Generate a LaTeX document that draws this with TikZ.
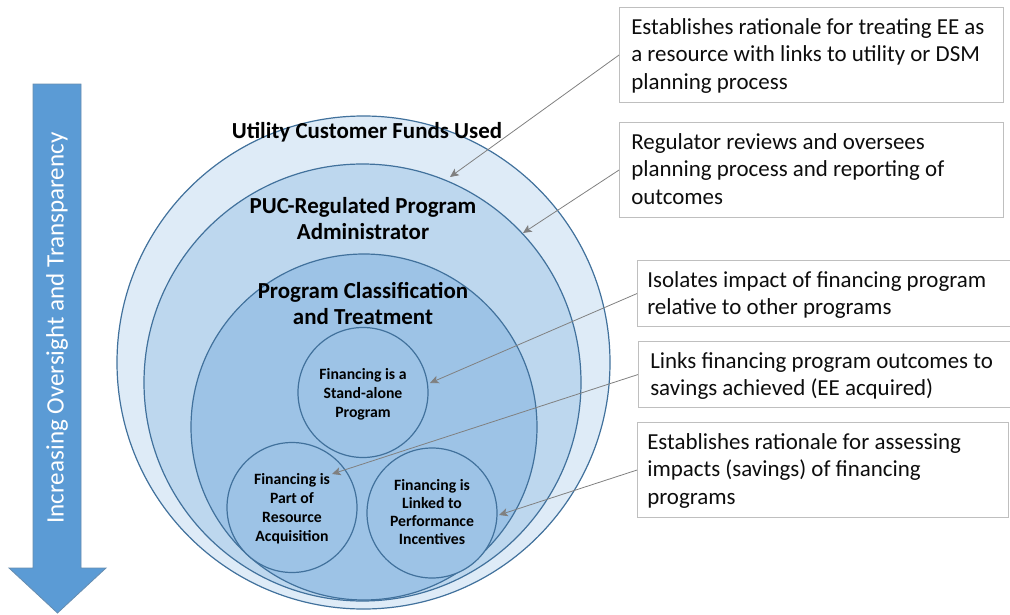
\documentclass[tikz,border=0pt]{standalone}
\usepackage{fontspec}
\setmainfont{Carlito}
\usetikzlibrary{arrows.meta}
\definecolor{ringA}{HTML}{DEEBF7}
\definecolor{ringB}{HTML}{BDD7EE}
\definecolor{ringC}{HTML}{9DC3E6}
\definecolor{edgeblue}{HTML}{41719C}
\definecolor{arrowblue}{HTML}{5B9BD5}
\definecolor{boxgray}{HTML}{BFBFBF}
\definecolor{linegray}{HTML}{808080}
\definecolor{txt}{HTML}{0D0D0D}
\tikzset{
  ring/.style={draw=edgeblue, line width=0.9pt, circle, inner sep=0pt},
  ringlabel/.style={font=\fontsize{17.2}{19.5}\selectfont\bfseries, align=center, inner sep=0pt},
  innerlabel/.style={font=\fontsize{11.8}{14.25}\selectfont\bfseries, align=center, inner sep=0pt},
  notebox/.style={draw=boxgray, line width=0.8pt, anchor=north west, inner sep=0pt},
  notetext/.style={anchor=north west, align=left, inner sep=0pt, text=txt, font=\fontsize{17.2}{20.6}\selectfont},
  pointer/.style={draw=linegray, line width=0.6pt, -{Stealth[length=6.5pt,width=6pt,inset=1.5pt]}}
}
\begin{document}
\begin{tikzpicture}[x=0.75pt,y=-0.75pt]
\useasboundingbox (0,0) rectangle (1010,614);
% left arrow
\draw[fill=arrowblue, draw=edgeblue!80, line width=0.6pt]
  (33,84) -- (81,84) -- (81,568) -- (106,568) -- (57.5,613) -- (9,568) -- (33,568) -- cycle;
\node[rotate=90, text=white, font=\fontsize{18.8}{22}\selectfont, inner sep=0pt] (arrowtext) at (57,328) {Increasing Oversight and Transparency};
% rings
\node[ring, fill=ringA, minimum size=493*0.75pt] (outer) at (363.5,362.5) {};
\node[ring, fill=ringB, minimum size=437*0.75pt] (middle) at (362.5,382.5) {};
\node[ring, fill=ringC, minimum size=346*0.75pt] (inner) at (364,427) {};
\node[ring, fill=ringC, minimum size=130*0.75pt] (standalone) at (363,392.5) {};
\node[ring, fill=ringC, minimum size=130*0.75pt] (resource) at (292,507.5) {};
\node[ring, fill=ringC, minimum size=130*0.75pt] (perform) at (432,513) {};
% note boxes
\node[notebox, minimum width=384*0.75pt, minimum height=95*0.75pt] (n1) at (619,7) {};
\node[notebox, minimum width=384*0.75pt, minimum height=95*0.75pt] (n2) at (619,122) {};
\node[notebox, minimum width=380*0.75pt, minimum height=66*0.75pt] (n3) at (637,260) {};
\node[notebox, minimum width=380*0.75pt, minimum height=66*0.75pt] (n4) at (638,341) {};
\node[notebox, minimum width=371*0.75pt, minimum height=95*0.75pt] (n5) at (637,422) {};
% note texts
\node[notetext] (n1t) at (631,14.75) {\strut Establishes rationale for treating EE as\\\strut a resource with links to utility or DSM\\\strut planning process};
\node[notetext] (n2t) at (631,129.75) {\strut Regulator reviews and oversees\\\strut planning process and reporting of\\\strut outcomes};
\node[notetext] (n3t) at (647,267.75) {\strut Isolates impact of financing program\\\strut relative to other programs};
\node[notetext] (n4t) at (650,348.75) {\strut Links financing program outcomes to\\\strut savings achieved (EE acquired)};
\node[notetext] (n5t) at (647,429.75) {\strut Establishes rationale for assessing\\\strut impacts (savings) of financing\\\strut programs};
% pointer targets
\coordinate (t1) at (450,177);
\coordinate (t2) at (523,233);
\coordinate (t3) at (430,383);
\coordinate (t4) at (332,474);
\coordinate (t5) at (499,515);
\draw[pointer] (n1.west) -- (t1);
\draw[pointer] (n2.west) -- (t2);
\draw[pointer] (n3.west) -- (t3);
\draw[pointer] (n4.west) -- (t4);
\draw[pointer] (n5.west) -- (t5);
% ring labels
\node[ringlabel, anchor=base] (l1) at (367,138) {Utility Customer Funds Used};
\node[ringlabel] (l2) at (363,220.8) {\strut PUC-Regulated Program\\\strut Administrator};
\node[ringlabel] (l3) at (363,305.8) {\strut Program Classification\\\strut and Treatment};
\node[innerlabel] (s1) at (363,394.5) {\strut Financing is a\\\strut Stand-alone\\\strut Program};
\node[innerlabel] (s2) at (292,508.7) {\strut Financing is\\\strut Part of\\\strut Resource\\\strut Acquisition};
\node[innerlabel, font=\fontsize{11.8}{13.5}\selectfont\bfseries] (s3) at (432,514) {\strut Financing is\\\strut Linked to\\\strut Performance\\\strut Incentives};
\end{tikzpicture}
\end{document}
